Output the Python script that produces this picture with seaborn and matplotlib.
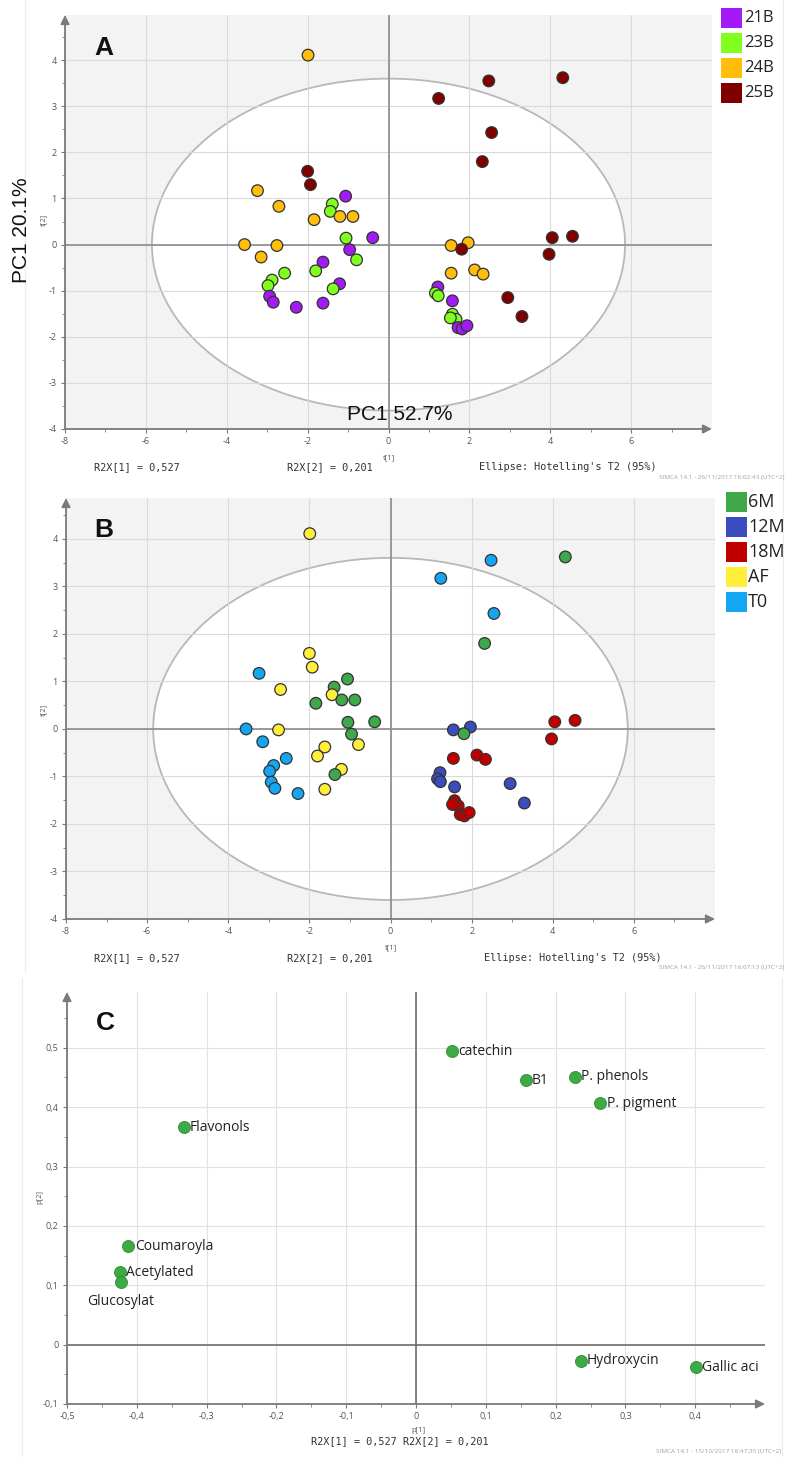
import numpy as np
import pandas as pd
import matplotlib
matplotlib.use("Agg")
import matplotlib.pyplot as plt
import seaborn as sns
from matplotlib.patches import Ellipse, Rectangle
from matplotlib.lines import Line2D
from matplotlib.ticker import MultipleLocator, FuncFormatter, FixedLocator

# ---------------- data ----------------
score_t1 = [-1.99, -2.00, -1.93, -3.24, -1.06, -2.71, -1.39, -1.44, -1.20, -0.88,
            -1.84, -1.05, -0.39, -3.56, -2.76, -0.96, -3.15, -0.79, -1.62, -2.57,
            -1.80, -2.88, -2.98, -1.21, -1.37, -2.94, -2.85, -1.62, -2.28,
            4.31, 2.48, 1.24, 2.55, 2.32, 4.55, 4.05, 1.55, 1.97, 1.81,
            3.97, 1.55, 2.13, 2.34, 1.22, 1.16, 1.23, 1.58, 2.95, 3.30,
            1.58, 1.67, 1.53, 1.72, 1.82, 1.94]
score_t2 = [4.11, 1.59, 1.30, 1.17, 1.05, 0.83, 0.88, 0.72, 0.61, 0.61,
            0.54, 0.14, 0.15, 0.00, -0.02, -0.11, -0.27, -0.33, -0.38, -0.62,
            -0.57, -0.77, -0.89, -0.85, -0.96, -1.12, -1.25, -1.27, -1.36,
            3.62, 3.55, 3.17, 2.43, 1.80, 0.18, 0.15, -0.02, 0.04, -0.10,
            -0.21, -0.62, -0.55, -0.64, -0.92, -1.05, -1.11, -1.22, -1.15, -1.56,
            -1.51, -1.62, -1.59, -1.80, -1.83, -1.76]
cultivar = ["24B", "25B", "25B", "24B", "21B", "24B", "23B", "23B", "24B", "24B",
            "24B", "23B", "21B", "24B", "24B", "21B", "24B", "23B", "21B", "23B",
            "23B", "23B", "23B", "21B", "23B", "21B", "21B", "21B", "21B",
            "25B", "25B", "25B", "25B", "25B", "25B", "25B", "24B", "24B", "25B",
            "25B", "24B", "24B", "24B", "21B", "23B", "23B", "21B", "25B", "25B",
            "23B", "23B", "23B", "21B", "21B", "21B"]
aging = ["AF", "AF", "AF", "T0", "6M", "AF", "6M", "AF", "6M", "6M",
         "6M", "6M", "6M", "T0", "AF", "6M", "T0", "AF", "AF", "T0",
         "AF", "T0", "T0", "AF", "6M", "T0", "T0", "AF", "T0",
         "6M", "T0", "T0", "T0", "6M", "18M", "18M", "12M", "12M", "6M",
         "18M", "18M", "18M", "18M", "12M", "12M", "12M", "12M", "12M", "12M",
         "18M", "18M", "18M", "18M", "18M", "18M"]

cultivar_levels = ["21B", "23B", "24B", "25B"]
cultivar_colors = ["#A21AF5", "#80FF1E", "#FFBE0A", "#800000"]
aging_levels = ["6M", "12M", "18M", "AF", "T0"]
aging_colors = ["#3FA84A", "#3B4DBE", "#C00000", "#FFEF3A", "#14A6F2"]

variables = ["catechin", "B1", "P. phenols", "P. pigment", "Flavonols",
             "Coumaroyla", "Acetylated", "Glucosylat", "Hydroxycin", "Gallic aci"]
load_p1 = [0.052, 0.157, 0.228, 0.264, -0.333, -0.412, -0.424, -0.423, 0.236, 0.401]
load_p2 = [0.494, 0.445, 0.451, 0.407, 0.366, 0.166, 0.122, 0.105, -0.027, -0.038]

x_ticks_scores = [-8, -6, -4, -2, 0, 2, 4, 6]
y_ticks_scores = [-4, -3, -2, -1, 0, 1, 2, 3, 4]
x_ticks_load = [-0.5, -0.4, -0.3, -0.2, -0.1, 0, 0.1, 0.2, 0.3, 0.4]
y_ticks_load = [-0.1, 0, 0.1, 0.2, 0.3, 0.4, 0.5]

scores = pd.DataFrame({"t1": score_t1, "t2": score_t2,
                       "cultivar": cultivar, "aging": aging})
loadings = pd.DataFrame({"p1": load_p1, "p2": load_p2, "var": variables})

# ---------------- figure ----------------
sns.set_theme(style="white")
plt.rcParams["font.family"] = ["Open Sans", "DejaVu Sans"]
plt.rcParams["axes.unicode_minus"] = False

W, H = 795, 1457
fig = plt.figure(figsize=(W / 100, H / 100), dpi=100)
fig.patch.set_facecolor("white")


def rect(l, t, r, b):
    return [l / W, 1 - b / H, (r - l) / W, (b - t) / H]


def fx(x):
    return x / W


def fy(y):
    return 1 - y / H


AXCOL = "#7a7a7a"
TICKCOL = "#555555"
MONO = ["DejaVu Sans Mono"]


def axis_arrows(ax):
    for s in ax.spines.values():
        s.set_visible(False)
    ax.annotate("", xy=(0, 1.0), xytext=(0, 0), xycoords="axes fraction",
                arrowprops=dict(arrowstyle="-|>", color=AXCOL, lw=1.3,
                                mutation_scale=13, shrinkA=0, shrinkB=0),
                annotation_clip=False, zorder=5)
    ax.annotate("", xy=(1.0, 0), xytext=(0, 0), xycoords="axes fraction",
                arrowprops=dict(arrowstyle="-|>", color=AXCOL, lw=1.3,
                                mutation_scale=13, shrinkA=0, shrinkB=0),
                annotation_clip=False, zorder=5)


def style_ticks(ax):
    ax.tick_params(which="major", direction="out", length=3, width=0.8,
                   color=AXCOL, labelcolor=TICKCOL, labelsize=6.5, pad=3,
                   left=True, bottom=True)
    ax.tick_params(which="minor", direction="out", length=2, width=0.6,
                   color=AXCOL, left=True, bottom=True)


def score_panel(r, hue, levels, colors, ytop, letter, letter_xy, t2_y, t1_y,
                foot_y, simca, simca_y, ell_x):
    ax = fig.add_axes(rect(*r))
    ax.set_facecolor("#f3f3f3")
    ax.set_xlim(-8, 8)
    ax.set_ylim(-4, ytop)
    ax.add_patch(Ellipse((0, 0), 2 * 5.85, 2 * 3.6, facecolor="white",
                         edgecolor="#b8b8b8", lw=1.3, zorder=0.2))
    ax.set_axisbelow(True)
    ax.xaxis.set_major_locator(FixedLocator(x_ticks_scores))
    ax.yaxis.set_major_locator(FixedLocator(y_ticks_scores))
    ax.xaxis.set_minor_locator(FixedLocator(np.arange(-7, 8, 2)))
    ax.yaxis.set_minor_locator(FixedLocator(np.arange(-3.5, 4.6, 1)))
    ax.xaxis.set_major_formatter(FuncFormatter(lambda v, p: f"{v:g}"))
    ax.yaxis.set_major_formatter(FuncFormatter(lambda v, p: f"{v:g}"))
    ax.grid(True, which="major", color="#dadada", lw=0.8)
    ax.axhline(0, color="#8c8c8c", lw=1.2, zorder=1)
    ax.axvline(0, color="#8c8c8c", lw=1.2, zorder=1)
    sns.scatterplot(data=scores, x="t1", y="t2", hue=hue, hue_order=levels,
                    palette=colors, s=70, edgecolor="#333333", linewidth=0.9,
                    legend=False, ax=ax, zorder=3, clip_on=False)
    ax.set_xlabel("")
    ax.set_ylabel("")
    style_ticks(ax)
    axis_arrows(ax)

    fig.text(fx(letter_xy[0]), fy(letter_xy[1]), letter, fontsize=19,
             fontweight="bold", family=["Liberation Sans", "DejaVu Sans"],
             ha="center", va="center", color="#111111")
    fig.text(fx(44), fy(t2_y), "t[2]", fontsize=5.5, rotation=90,
             ha="center", va="center", color=TICKCOL)
    fig.text(fx(r[0] + (0 - (-8)) / 16 * (r[2] - r[0])), fy(t1_y), "t[1]",
             fontsize=5.5, ha="center", va="center", color=TICKCOL)
    fig.text(fx(137), fy(foot_y), "R2X[1] = 0,527", fontsize=7.4,
             family=MONO, ha="center", va="center", color="#333333")
    fig.text(fx(330), fy(foot_y), "R2X[2] = 0,201", fontsize=7.4,
             family=MONO, ha="center", va="center", color="#333333")
    fig.text(fx(ell_x), fy(foot_y), "Ellipse: Hotelling's T2 (95%)",
             fontsize=7.4, family=MONO, ha="center", va="center",
             color="#333333")
    fig.text(fx(784), fy(simca_y), simca, fontsize=4.6, ha="right",
             va="center", color="#a0a0a0")
    return ax


# Panel A
axA = score_panel((65, 15, 712, 429), "cultivar", cultivar_levels,
                  cultivar_colors, 4.98, "A", (104, 48), 220, 458, 467,
                  "SIMCA 14.1 - 26/11/2017 16:02:43 (UTC+2)", 477, 568)
# Panel B
axB = score_panel((66, 498, 715, 919), "aging", aging_levels,
                  aging_colors, 4.86, "B", (104, 530), 710, 948, 958,
                  "SIMCA 14.1 - 26/11/2017 16:07:13 (UTC+2)", 968, 573)

# overlay labels on panel A
fig.text(fx(22), fy(230), "PC1 20.1%", fontsize=15, rotation=90,
         family=["Liberation Sans", "DejaVu Sans"], ha="center", va="center",
         color="#111111")
fig.text(fx(400), fy(415), "PC1 52.7%", fontsize=15,
         family=["Liberation Sans", "DejaVu Sans"], ha="center", va="center",
         color="#111111")


# legends
def legend(levels, colors, x0, y0, pitch, w, h, tx, fs):
    for i, (lab, col) in enumerate(zip(levels, colors)):
        y = y0 + i * pitch
        fig.add_artist(Rectangle((fx(x0), fy(y + h)), w / W, h / H,
                                 transform=fig.transFigure, facecolor=col,
                                 edgecolor="none"))
        fig.text(fx(tx), fy(y + h / 2), lab, fontsize=fs, ha="left",
                 va="center", color="#222222")


legend(cultivar_levels, cultivar_colors, 721, 8, 25, 21, 20, 744, 12)
legend(aging_levels, aging_colors, 726, 492, 25, 21, 20, 748, 13)

# Panel C
axC = fig.add_axes(rect(67, 992, 765, 1404))
axC.set_facecolor("white")
axC.set_xlim(-0.5, 0.5)
axC.set_ylim(-0.1, 0.594)
axC.set_axisbelow(True)
axC.xaxis.set_major_locator(FixedLocator(x_ticks_load))
axC.yaxis.set_major_locator(FixedLocator(y_ticks_load))
axC.xaxis.set_minor_locator(FixedLocator(np.arange(-0.45, 0.5, 0.1)))
axC.yaxis.set_minor_locator(FixedLocator(np.arange(-0.05, 0.56, 0.1)))
comma = FuncFormatter(lambda v, p: f"{round(v, 2):g}".replace(".", ","))
axC.xaxis.set_major_formatter(comma)
axC.yaxis.set_major_formatter(comma)
axC.grid(True, which="major", color="#e2e2e2", lw=0.8)
axC.axhline(0, color="#6e6e6e", lw=1.2, zorder=1)
axC.axvline(0, color="#6e6e6e", lw=1.2, zorder=1)
sns.scatterplot(data=loadings, x="p1", y="p2", color="#3DAA44", s=75,
                edgecolor="#2E8B36", linewidth=0.6, legend=False, ax=axC,
                zorder=3)
for name, x, y in zip(variables, load_p1, load_p2):
    if name == "Glucosylat":
        axC.annotate(name, (x, y), xytext=(0, -14), textcoords="offset points",
                     ha="center", va="center", fontsize=10, color="#222222")
    else:
        axC.annotate(name, (x, y), xytext=(4.5, 0), textcoords="offset points",
                     ha="left", va="center", fontsize=10, color="#222222")
axC.set_xlabel("")
axC.set_ylabel("")
style_ticks(axC)
axis_arrows(axC)

fig.text(fx(105), fy(1023), "C", fontsize=19, fontweight="bold",
         family=["Liberation Sans", "DejaVu Sans"], ha="center", va="center",
         color="#111111")
fig.text(fx(40), fy(1197), "p[2]", fontsize=5.5, rotation=90, ha="center",
         va="center", color=TICKCOL)
fig.text(fx(418), fy(1430), "p[1]", fontsize=5.5, ha="center", va="center",
         color=TICKCOL)
fig.text(fx(400), fy(1441), "R2X[1] = 0,527 R2X[2] = 0,201", fontsize=7.4,
         family=MONO, ha="center", va="center", color="#333333")
fig.text(fx(781), fy(1452), "SIMCA 14.1 - 15/10/2017 18:47:35 (UTC+2)",
         fontsize=4.6, ha="right", va="center", color="#a0a0a0")

# faint screenshot frame lines
for (x, y0, y1) in [(25, 0, 972), (22, 978, 1457), (783, 0, 972), (782, 978, 1457)]:
    fig.add_artist(Line2D([fx(x), fx(x)], [fy(y0), fy(y1)],
                          transform=fig.transFigure, color="#ececec", lw=0.8))

fig.savefig("out.png", dpi=100, facecolor="white")
